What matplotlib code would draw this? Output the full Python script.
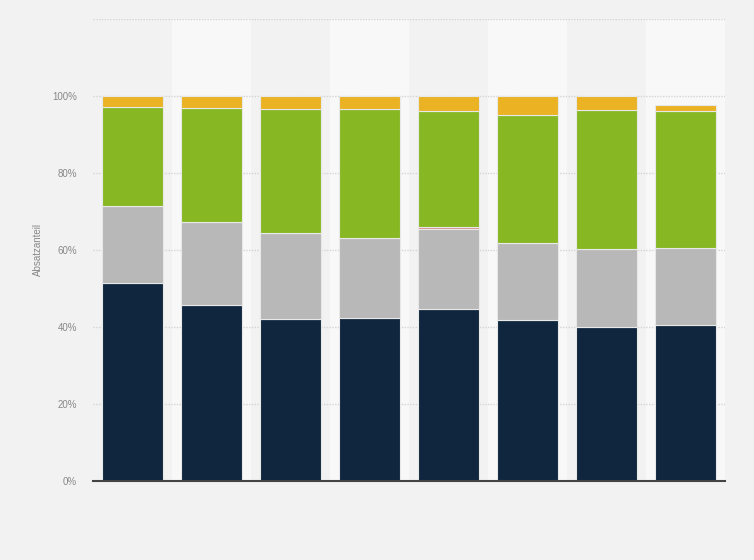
import numpy as np
import matplotlib.pyplot as plt

plt.rcParams['font.family'] = ['Liberation Sans', 'DejaVu Sans']

# shares per bar (percent), bottom to top
navy = [51.3, 45.6, 42.2, 42.4, 44.8, 41.9, 40.1, 40.4]
grey = [20.1, 21.8, 22.3, 20.8, 20.6, 20.0, 20.2, 20.2]
red = [0, 0, 0, 0, 0.6, 0, 0, 0]
green = [25.8, 29.5, 32.2, 33.4, 30.1, 33.2, 36.1, 35.4]
yellow = [2.8, 3.0, 3.3, 3.4, 3.9, 4.9, 3.6, 1.7]

series = [navy, grey, red, green, yellow]
colours = ['#0f263e', '#b8b8b8', '#d98a8a', '#87b823', '#ebb324']
yticks = [0, 20, 40, 60, 80, 100]

fig = plt.figure(figsize=(7.54, 5.6), dpi=100)
fig.patch.set_facecolor('#f2f2f2')
ax = fig.add_axes([93/754, 1-481/560, 632/754, 462/560])
ax.set_facecolor('#f2f2f2')

x = np.arange(len(navy))

# alternating column bands
for i in x:
    if i % 2 == 1:
        ax.axvspan(i-0.5, i+0.5, color='#f8f8f8', zorder=0, lw=0)

# dotted gridlines
for g in range(20, 121, 20):
    ax.axhline(g, color='#d4d4d4', lw=1, ls=(0, (1, 1)), zorder=1)

bottom = np.zeros(len(navy))
for vals, c in zip(series, colours):
    vals = np.array(vals)
    ax.bar(x, vals, width=0.77, bottom=bottom, color=c,
           edgecolor='#e8e8e8', linewidth=0.8, zorder=2)
    bottom += vals

ax.set_xlim(-0.5, 7.5)
ax.set_ylim(0, 120)
ax.set_yticks(yticks)
ax.set_yticklabels([f'{t}%' for t in yticks], color='#888888', fontsize=7)
ax.set_xticks([])
ax.tick_params(axis='y', length=0, pad=11.5)

for s in ['top', 'right', 'left']:
    ax.spines[s].set_visible(False)
ax.spines['bottom'].set_color('#444444')
ax.spines['bottom'].set_linewidth(1.5)
ax.spines['bottom'].set_zorder(3)

ax.set_ylabel('Absatzanteil', color='#888888', fontsize=7, labelpad=6.5)

fig.savefig('out.png', dpi=100, facecolor=fig.get_facecolor())
